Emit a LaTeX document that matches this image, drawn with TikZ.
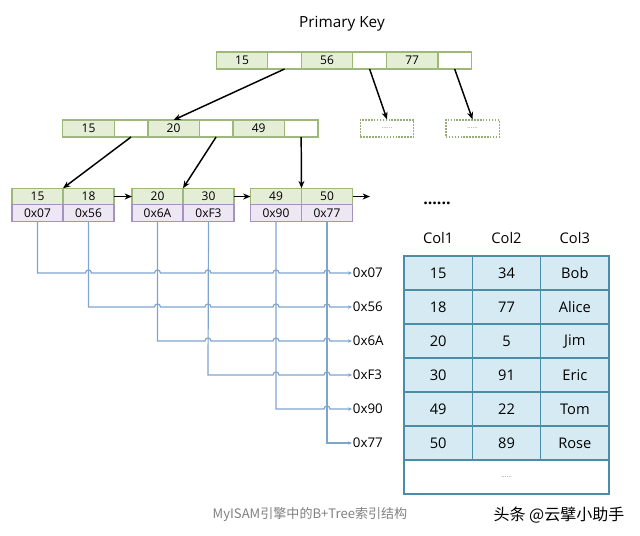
\documentclass[tikz,border=0pt]{standalone}
\usepackage{fontspec}
\setmainfont{Open Sans}
\newfontfamily\cjk{Noto Sans CJK SC}
\usetikzlibrary{arrows.meta,positioning}

\definecolor{keyfill}{HTML}{E4EDD6}
\definecolor{keyline}{HTML}{9DB878}
\definecolor{adrfill}{HTML}{ECE7F2}
\definecolor{adrline}{HTML}{A692BE}
\definecolor{tblfill}{HTML}{D5EAF2}
\definecolor{tblline}{HTML}{4A8DA8}
\definecolor{linkblue}{HTML}{7FA5CF}

\begin{document}
\begin{tikzpicture}[
  x=0.75pt, y=-0.75pt,
  cell/.style={rectangle, draw=keyline, line width=1pt, outer sep=0pt, inner sep=0pt,
    minimum height=12.75pt, font=\fontsize{9}{10}\selectfont},
  key/.style={cell, fill=keyfill, minimum width=38.6pt},
  ptr/.style={cell, fill=white, minimum width=25.2pt},
  leafkey/.style={cell, fill=keyfill, minimum width=38.25pt, minimum height=12.4pt},
  leafadr/.style={cell, draw=adrline, fill=adrfill, minimum width=38.25pt, minimum height=12.4pt},
  more/.style={rectangle, draw=keyline!80!gray, line width=1pt, dash pattern=on 1.2pt off 1pt,
    minimum width=40pt, minimum height=12.75pt, font=\tiny, text=gray},
  tcell/.style={rectangle, draw=tblline, fill=tblfill, line width=1pt, outer sep=0pt,
    minimum width=51.25pt, minimum height=25.5pt, font=\fontsize{11}{12}\selectfont},
  hdr/.style={font=\fontsize{11}{12}\selectfont},
  addr/.style={anchor=west, inner sep=0.5pt, font=\fontsize{10}{12}\selectfont},
  tree/.style={-{Stealth[length=5.5pt,width=4.5pt]}, line width=1.1pt},
  link/.style={-{Stealth[length=3pt,width=2.6pt]}, draw=linkblue, line width=0.9pt}
]
\useasboundingbox (0,0) rectangle (640,536);

\node[font=\fontsize{11.5}{13}\selectfont] (title) at (342,24) {Primary Key};

% root
\node[key] (t1) at (242,60.5) {15};
\node[ptr, right=0pt of t1] (t2) {};
\node[key, right=0pt of t2] (t3) {56};
\node[ptr, right=0pt of t3] (t4) {};
\node[key, right=0pt of t4] (t5) {77};
\node[ptr, right=0pt of t5] (t6) {};

% second level
\node[key] (s1) at (88.5,128.5) {15};
\node[ptr, right=0pt of s1] (s2) {};
\node[key, right=0pt of s2] (s3) {20};
\node[ptr, right=0pt of s3] (s4) {};
\node[key, right=0pt of s4] (s5) {49};
\node[ptr, right=0pt of s5] (s6) {};

\node[more] (d1) at (387,128.5) {......};
\node[more] (d2) at (472.5,128.5) {......};

% leaves
\node[leafkey] (a1) at (37.5,196.5) {15};
\node[leafkey, right=0pt of a1] (a2) {18};
\node[leafadr, below=0pt of a1] (a1a) {0x07};
\node[leafadr, below=0pt of a2] (a2a) {0x56};

\node[leafkey] (b1) at (157.5,196.5) {20};
\node[leafkey, right=0pt of b1] (b2) {30};
\node[leafadr, below=0pt of b1] (b1a) {0x6A};
\node[leafadr, below=0pt of b2] (b2a) {0xF3};

\node[leafkey] (c1) at (276,196.5) {49};
\node[leafkey, right=0pt of c1] (c2) {50};
\node[leafadr, below=0pt of c1] (c1a) {0x90};
\node[leafadr, below=0pt of c2] (c2a) {0x77};

\coordinate (nxt) at (370,196.5);

\draw[tree] (t2.south) -- (s3.north);
\draw[tree] (t4.south) -- (d1.north);
\draw[tree] (t6.south) -- (d2.north);
\draw[tree] (s2.south) -- (a1.north east);
\draw[tree] (s4.south) -- (b1.north east);
\draw[tree] (s6.south) -- (c1.north east);
\draw[tree] (a2.east) -- (b1.west);
\draw[tree] (b2.east) -- (c1.west);
\draw[tree] (c2.east) -- (nxt);

% row addresses
\node[addr] (r1) at (352,273) {0x07};
\node[addr] (r2) at (352,307) {0x56};
\node[addr] (r3) at (352,341) {0x6A};
\node[addr] (r4) at (352,375) {0xF3};
\node[addr] (r5) at (352,409) {0x90};
\node[addr] (r6) at (352,443) {0x77};

\draw[link] (a1a.south) -- (37.5,273)
  -- (85.5,273) .. controls +(0,-4) and +(0,-4) .. ++(6,0)
  -- (154.5,273) .. controls +(0,-4) and +(0,-4) .. ++(6,0)
  -- (205,273) .. controls +(0,-4) and +(0,-4) .. ++(6,0)
  -- (273,273) .. controls +(0,-4) and +(0,-4) .. ++(6,0)
  -- (324,273) .. controls +(0,-4) and +(0,-4) .. ++(6,0) -- (r1.west);
\draw[link] (a2a.south) -- (88.5,307)
  -- (154.5,307) .. controls +(0,-4) and +(0,-4) .. ++(6,0)
  -- (205,307) .. controls +(0,-4) and +(0,-4) .. ++(6,0)
  -- (273,307) .. controls +(0,-4) and +(0,-4) .. ++(6,0)
  -- (324,307) .. controls +(0,-4) and +(0,-4) .. ++(6,0) -- (r2.west);
\draw[link] (b1a.south) -- (157.5,341)
  -- (205,341) .. controls +(0,-4) and +(0,-4) .. ++(6,0)
  -- (273,341) .. controls +(0,-4) and +(0,-4) .. ++(6,0)
  -- (324,341) .. controls +(0,-4) and +(0,-4) .. ++(6,0) -- (r3.west);
\draw[link] (b2a.south) -- (208,375)
  -- (273,375) .. controls +(0,-4) and +(0,-4) .. ++(6,0)
  -- (324,375) .. controls +(0,-4) and +(0,-4) .. ++(6,0) -- (r4.west);
\draw[link] (c1a.south) -- (276,409)
  -- (324,409) .. controls +(0,-4) and +(0,-4) .. ++(6,0) -- (r5.west);
\draw[link] (c2a.south) |- (r6.west);

% data file
\node[font=\fontsize{12}{12}\selectfont\bfseries] (dots) at (437,203) {......};
\node[hdr] (h1) at (438.2,238) {Col1};
\node[hdr] (h2) at (506.5,238) {Col2};
\node[hdr] (h3) at (574.8,238) {Col3};

\node[tcell] (x11) at (438.2,273) {15};
\node[tcell, right=0pt of x11] (x12) {34};
\node[tcell, right=0pt of x12] (x13) {Bob};
\node[tcell, below=0pt of x11] (x21) {18};
\node[tcell, right=0pt of x21] (x22) {77};
\node[tcell, right=0pt of x22] (x23) {Alice};
\node[tcell, below=0pt of x21] (x31) {20};
\node[tcell, right=0pt of x31] (x32) {5};
\node[tcell, right=0pt of x32] (x33) {Jim};
\node[tcell, below=0pt of x31] (x41) {30};
\node[tcell, right=0pt of x41] (x42) {91};
\node[tcell, right=0pt of x42] (x43) {Eric};
\node[tcell, below=0pt of x41] (x51) {49};
\node[tcell, right=0pt of x51] (x52) {22};
\node[tcell, right=0pt of x52] (x53) {Tom};
\node[tcell, below=0pt of x51] (x61) {50};
\node[tcell, right=0pt of x61] (x62) {89};
\node[tcell, right=0pt of x62] (x63) {Rose};
\node[tcell, fill=white, minimum width=153.75pt, font=\tiny, text=gray,
  below=0pt of x62] (x7) {......};

% caption
\node[font=\cjk\fontsize{9.8}{11}\selectfont, text=black!50] (cap) at (310,515) {MyISAM引擎中的B+Tree索引结构};
\node[font=\cjk\fontsize{12}{14}\selectfont] (mark) at (559,515) {头条 @云擘小助手};

\end{tikzpicture}
\end{document}
